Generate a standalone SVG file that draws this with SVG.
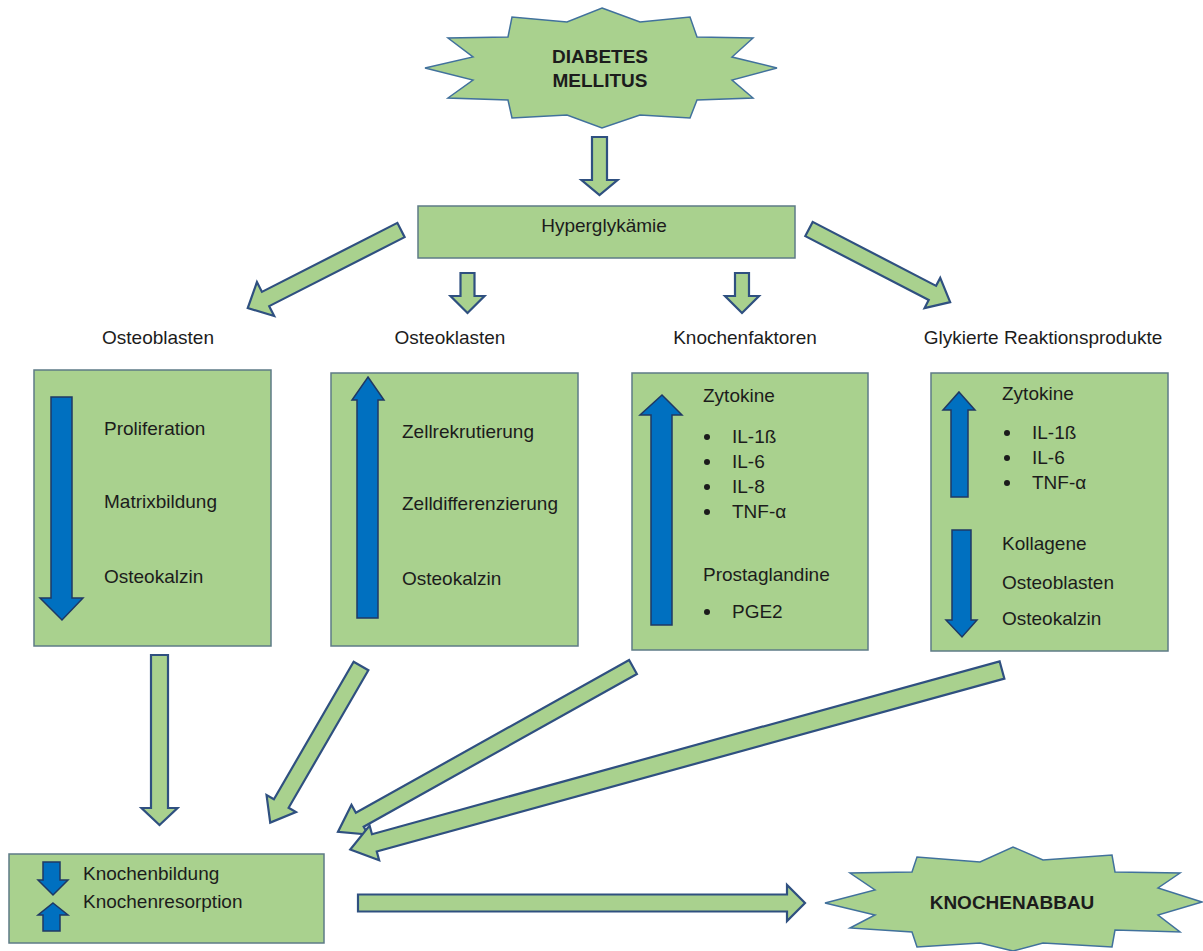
<svg xmlns="http://www.w3.org/2000/svg" width="1203" height="951" viewBox="0 0 1203 951">
<style>
.bg{fill:#ffffff}
.star{fill:#A9D18E;stroke:#41719C;stroke-width:1.5}
.box{fill:#A9D18E;stroke:#5E7B86;stroke-width:1.5}
.ga{fill:#A9D18E;stroke:#2F5080;stroke-width:2.2;stroke-linejoin:miter}
.ba{fill:#0070C0;stroke:#1F3864;stroke-width:1.5}
text{font-family:"Liberation Sans",Arial,sans-serif;font-size:19px;fill:#1c1c1c}
.b{font-weight:bold}
.c{text-anchor:middle}
.dot{fill:#1c1c1c}
</style>
<rect class="bg" x="0" y="0" width="1203" height="951"/>

<g id="diabetes">
<polygon class="star" points="602,8 640,22 690,17 697,37 753,38 732,57 777,68 732,80 753,98 697,100 690,118 640,115 602,128 567,115 512,118 508,100 448,98 473,80 425,68 473,57 448,38 508,37 512,17 567,22"/>
<text class="b c" x="600" y="63">DIABETES</text>
<text class="b c" x="600" y="87">MELLITUS</text>
</g>

<g id="hyperglykaemie">
<rect class="box" x="418" y="206" width="377" height="52"/>
<text class="c" x="604" y="232">Hyperglykämie</text>
</g>

<g id="osteoblasten">
<text class="c" x="158" y="344">Osteoblasten</text>
<rect class="box" x="34" y="370" width="237" height="276"/>
<path class="ba" d="M51,397 L72,397 L72,598 L83,598 L62,620 L40,598 L51,598 Z"/>
<text x="104" y="435">Proliferation</text>
<text x="104" y="508">Matrixbildung</text>
<text x="104" y="583">Osteokalzin</text>
</g>

<g id="osteoklasten">
<text class="c" x="450" y="344">Osteoklasten</text>
<rect class="box" x="331" y="373" width="247" height="273"/>
<path class="ba" d="M368,377 L384,400 L378,400 L378,618 L357,618 L357,400 L352,400 Z"/>
<text x="402" y="438">Zellrekrutierung</text>
<text x="402" y="510">Zelldifferenzierung</text>
<text x="402" y="585">Osteokalzin</text>
</g>

<g id="knochenfaktoren">
<text class="c" x="745" y="344">Knochenfaktoren</text>
<rect class="box" x="632" y="373" width="236" height="277"/>
<path class="ba" d="M662,395 L682,415 L672,415 L672,625 L651,625 L651,415 L640,415 Z"/>
<text x="703" y="402">Zytokine</text>
<circle class="dot" cx="707" cy="437" r="3"/>
<text x="732" y="443">IL-1ß</text>
<circle class="dot" cx="707" cy="462" r="3"/>
<text x="732" y="468">IL-6</text>
<circle class="dot" cx="707" cy="487" r="3"/>
<text x="732" y="493">IL-8</text>
<circle class="dot" cx="707" cy="512" r="3"/>
<text x="732" y="518">TNF-α</text>
<text x="703" y="581">Prostaglandine</text>
<circle class="dot" cx="707" cy="612" r="3"/>
<text x="732" y="618">PGE2</text>
</g>

<g id="glykierte">
<text class="c" x="1043" y="344">Glykierte Reaktionsprodukte</text>
<rect class="box" x="931" y="373" width="237" height="278"/>
<path class="ba" d="M959,392 L975,410 L968,410 L968,497 L951,497 L951,410 L943,410 Z"/>
<path class="ba" d="M952,530 L971,530 L971,620 L977,620 L962,637 L946,620 L952,620 Z"/>
<text x="1002" y="400">Zytokine</text>
<circle class="dot" cx="1007" cy="433" r="3"/>
<text x="1032" y="439">IL-1ß</text>
<circle class="dot" cx="1007" cy="458" r="3"/>
<text x="1032" y="464">IL-6</text>
<circle class="dot" cx="1007" cy="483" r="3"/>
<text x="1032" y="489">TNF-α</text>
<text x="1002" y="550">Kollagene</text>
<text x="1002" y="589">Osteoblasten</text>
<text x="1002" y="625">Osteokalzin</text>
</g>

<g id="ergebnis">
<rect class="box" x="9" y="854" width="315" height="89"/>
<path class="ba" d="M43,862 L60,862 L60,880 L68,880 L53,895 L38,880 L43,880 Z"/>
<path class="ba" d="M53,903 L68,915 L60,915 L60,931 L43,931 L43,915 L38,915 Z"/>
<text x="83" y="880">Knochenbildung</text>
<text x="83" y="908">Knochenresorption</text>
</g>

<g id="knochenabbau">
<polygon class="star" points="825,903 875,890 850,873 912,872 917,857 980,862 1013,847 1043,860 1112,855 1115,872 1180,873 1158,888 1202,902 1158,915 1180,932 1115,930 1112,947 1043,943 1013,951 980,943 917,947 912,932 850,928 875,915"/>
<text class="b c" x="1012" y="909">KNOCHENABBAU</text>
</g>

<g id="connectors">
<path class="ga" transform="translate(599.5,137) rotate(90)" d="M0,-7.5 L43,-7.5 L43,-18 L58,0 L43,18 L43,7.5 L0,7.5 Z"/>
<path class="ga" transform="translate(401,230) rotate(153)" d="M0,-8 L152,-8 L152,-19 L172,0 L152,19 L152,8 L0,8 Z"/>
<path class="ga" transform="translate(467.5,273) rotate(90)" d="M0,-7 L23,-7 L23,-17 L40,0 L23,17 L23,7 L0,7 Z"/>
<path class="ga" transform="translate(742,273) rotate(90)" d="M0,-7 L23,-7 L23,-17 L40,0 L23,17 L23,7 L0,7 Z"/>
<path class="ga" transform="translate(809,229) rotate(27.4)" d="M0,-8 L139,-8 L139,-17 L159,0 L139,17 L139,8 L0,8 Z"/>
<path class="ga" transform="translate(159.5,655) rotate(90)" d="M0,-8.5 L153,-8.5 L153,-18 L170,0 L153,18 L153,8.5 L0,8.5 Z"/>
<path class="ga" transform="translate(361,666) rotate(120.1)" d="M0,-8.5 L159,-8.5 L159,-17 L181,0 L159,17 L159,8.5 L0,8.5 Z"/>
<path class="ga" transform="translate(633,667) rotate(150.8)" d="M0,-8 L313,-8 L313,-17 L338,0 L313,17 L313,8 L0,8 Z"/>
<path class="ga" transform="translate(1002,670) rotate(164.6)" d="M0,-9 L651,-9 L651,-18 L676,0 L651,18 L651,9 L0,9 Z"/>
<path class="ga" transform="translate(358,903)" d="M0,-8.5 L429,-8.5 L429,-18 L447,0 L429,18 L429,8.5 L0,8.5 Z"/>
</g>
</svg>
